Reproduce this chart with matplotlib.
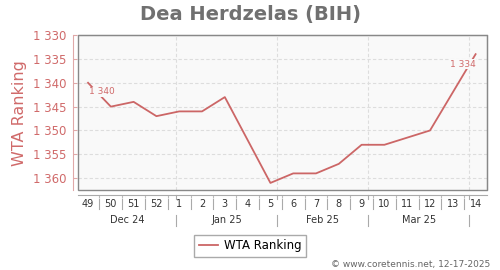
import datetime as dt

import numpy as np
import matplotlib
matplotlib.use('Agg')
import matplotlib.pyplot as plt
import matplotlib.transforms as mtransforms
from matplotlib.patches import Rectangle

# ── Datos ────────────────────────────────────────────────────────────────────
weeks = ['49', '50', '51', '52', '1', '2', '3', '4', '5', '6', '7', '8',
         '9', '10', '11', '12', '13', '14']
ranks = [1340, 1345, 1344, 1347, 1346, 1346, 1343, None, 1361, 1359, 1359,
         1357, 1353, 1353, None, 1350, None, 1334]
months = ['Dec 24', 'Jan 25', 'Feb 25', 'Mar 25']
month_starts = ['2025-01-01', '2025-02-01', '2025-03-01', '2025-04-01']
first_week_date = '2024-12-05'
yticks = [1330, 1335, 1340, 1345, 1350, 1355, 1360]

RED = '#cc6666'
RED_TXT = '#d06a6a'
GRAY = '#888888'
FACE = '#f9f9f9'

plt.rcParams.update({'font.family': 'DejaVu Sans'})

fig = plt.figure(figsize=(5, 2.7), dpi=100)
ax = fig.add_axes([0.156, 0.296, 0.818, 0.574])
ax.set_facecolor(FACE)

x_all = np.arange(len(weeks))
xs = [i for i, r in zip(x_all, ranks) if r is not None]
ys = [r for r in ranks if r is not None]

xmin, xmax = -0.44, len(weeks) - 0.5
ax.set_xlim(xmin, xmax)
ax.set_ylim(1362.5, 1330)

# posición de los cambios de mes en unidades de semana
d0 = dt.date.fromisoformat(first_week_date)
month_pos = [(dt.date.fromisoformat(m) - d0).days / 7 for m in month_starts]

# rejilla
for y in yticks[1:]:
    ax.axhline(y, color='#dddddd', lw=0.8, ls=(0, (3, 2)), zorder=0)
for mp in month_pos:
    ax.axvline(mp, color='#dddddd', lw=0.8, ls=(0, (3, 2)), zorder=0)

ax.plot(xs, ys, color=RED, lw=1.3, zorder=3, label='WTA Ranking')

fmt = lambda v: f'{v:,}'.replace(',', ' ')
bb = dict(facecolor=FACE, edgecolor='none', pad=0.5)
ax.annotate(fmt(ys[0]), xy=(xs[0], ys[0]), xytext=(1, -9),
            textcoords='offset pixels', ha='left', va='center',
            fontsize=6.5, color=RED_TXT, bbox=bb, zorder=4)
ax.annotate(fmt(ys[-1]), xy=(xs[-1], ys[-1]), xytext=(0, -10),
            textcoords='offset pixels', ha='right', va='center',
            fontsize=6.5, color=RED_TXT, bbox=bb, zorder=4)

# marco y ejes
for s in ['top', 'right']:
    ax.spines[s].set_color(GRAY)
ax.spines['left'].set_position(('outward', 3.6))
ax.spines['left'].set_color('#e0a8a8')
ax.spines['bottom'].set_position(('outward', 3.6))
ax.spines['bottom'].set_color('#aaaaaa')
ax.add_patch(Rectangle((0, 0), 1, 1, transform=ax.transAxes, fill=False,
                       edgecolor=GRAY, lw=1, clip_on=False, zorder=5))

ax.set_yticks(yticks)
ax.set_yticklabels([fmt(v) for v in yticks])
ax.tick_params(axis='y', direction='in', length=3, color='#e0a8a8',
               labelcolor=RED_TXT, labelsize=8.5, pad=5)

ax.set_xticks(x_all[:-1] + 0.5)
ax.set_xticklabels([])
ax.tick_params(axis='x', length=2, color='#bbbbbb')

trans = mtransforms.blended_transform_factory(ax.transData, ax.transAxes)
for i, w in enumerate(weeks):
    ax.text(i, -0.09, w, transform=trans, ha='center', va='center',
            fontsize=7, color='#333333')
for i in range(len(weeks) - 1):
    ax.plot([i + 0.5, i + 0.5], [-0.06, -0.12], transform=trans,
            color='#aaaaaa', lw=0.8, clip_on=False)
edges = [xmin] + month_pos
for k, m in enumerate(months):
    ax.text((edges[k] + edges[k + 1]) / 2, -0.194, m, transform=trans,
            ha='center', va='center', fontsize=7, color='#333333')
for mp in month_pos:
    ax.plot([mp, mp], [-0.16, -0.23], transform=trans,
            color='#aaaaaa', lw=0.8, clip_on=False)
    ax.plot([mp, mp], [-0.032, -0.06], transform=trans,
            color='#aaaaaa', lw=0.8, clip_on=False)

fig.text(0.5, 0.948, 'Dea Herdzelas (BIH)', ha='center', va='center',
         fontsize=14, fontweight='bold', color='#707070')
fig.text(0.04, 0.581, 'WTA Ranking', rotation=90, ha='center', va='center',
         fontsize=11.5, color=RED_TXT)
fig.text(0.98, 0.022, '\u00a9 www.coretennis.net, 12-17-2025', ha='right',
         va='center', fontsize=6.5, color='#666666')

fig.legend(loc='center', bbox_to_anchor=(0.5, 0.089), fontsize=8.5,
           fancybox=False, edgecolor='#aaaaaa', framealpha=1,
           handlelength=1.6, borderpad=0.4, handletextpad=0.5)

fig.savefig('out.png', dpi=100)
